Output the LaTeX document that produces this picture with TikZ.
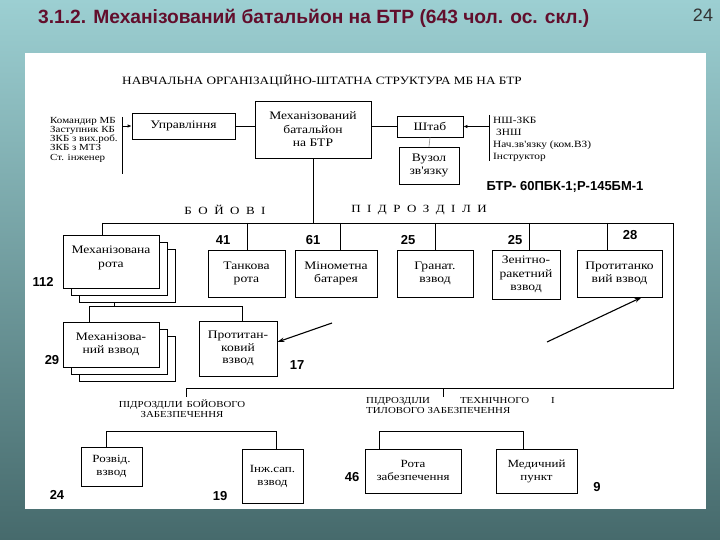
\documentclass[tikz,border=0pt]{standalone}
\usepackage{fontspec}
\setmainfont{Liberation Serif}
\newfontfamily\dserif[FakeStretch=1.18]{Liberation Serif}
\newfontfamily\asans{Liberation Sans}
\usetikzlibrary{arrows.meta,calc}
\definecolor{bgtop}{RGB}{156,207,210}
\definecolor{bgbot}{RGB}{70,106,108}
\definecolor{titlec}{RGB}{98,14,44}
\begin{document}
\begin{tikzpicture}[x=1pt,y=-1pt,
  bx/.style={draw, line width=0.8pt, fill=white, align=center, inner sep=1pt,
    font=\dserif\fontsize{11.5}{13.5}\selectfont},
  num/.style={font=\asans\bfseries\fontsize{13}{13}\selectfont, inner sep=0pt},
  ln/.style={line width=0.8pt},
  arr/.style={line width=1.1pt, -{Stealth[length=7pt,width=4.5pt]}},
  sarr/.style={line width=0.8pt, -{Latex[length=4pt,width=3.5pt]}},
  lst/.style={font=\dserif\fontsize{9.3}{9.2}\selectfont, align=left, inner sep=0pt, anchor=north west},
  spcap/.style={font=\dserif\fontsize{11}{12}\selectfont, inner sep=0pt},
  smalltxt/.style={font=\dserif\fontsize{9.2}{9.5}\selectfont, inner sep=0pt},
]
\useasboundingbox (0,0) rectangle (720,540);
\shade[top color=bgtop, bottom color=bgbot] (0,0) rectangle (720,540);
\fill[white] (25,53) rectangle (706,509);

% title
\node[anchor=west, text=titlec, inner sep=0pt,
  font=\asans\bfseries\fontsize{19.2}{20}\selectfont] (title) at (38,18)
  {3.1.2. Механізований батальйон на БТР (643 чол. ос. скл.)};
\node[font=\asans\fontsize{18}{18}\selectfont, text=black!80, inner sep=0pt] (pg) at (703,15) {24};

% heading
\node[font=\dserif\fontsize{11.2}{12}\selectfont, inner sep=0pt] (head) at (322,81)
  {НАВЧАЛЬНА ОРГАНІЗАЦІЙНО-ШТАТНА СТРУКТУРА МБ НА БТР};

% top boxes
\node[bx, minimum width=103, minimum height=26] (upr) at (183.5,126) {Управління};
\node[bx, minimum width=116, minimum height=57] (mb) at (313,129.5) {Механізований\\батальйон\\на БТР};
\node[bx, minimum width=66, minimum height=21] (shtab) at (430,126.5) {Штаб};
\node[bx, minimum width=60, minimum height=37] (vuzol) at (429,165.5) {Вузол\\зв'язку};

\draw[ln] (upr.east) -- (upr.east -| mb.west);
\draw[ln] (mb.east |- shtab.west) -- (shtab.west);
\draw[line width=0.6pt, black!45] (shtab.south) -- (vuzol.north);

% left list
\node[lst] (llist) at (50,117) {Командир МБ\\Заступник КБ\\ЗКБ з вих.роб.\\ЗКБ з МТЗ\\Ст. інженер};
\coordinate (lb1) at (122,117);
\coordinate (lb2) at (122,174);
\draw[ln] (lb1) -- (lb2);
\draw[sarr] (lb1 |- upr.west) -- (upr.west);

% right list
\node[lst, font=\dserif\fontsize{9.6}{12}\selectfont] (rlist) at (493,116.5)
  {НШ-ЗКБ\\\hspace{3pt}ЗНШ\\Нач.зв'язку (ком.ВЗ)\\Інструктор};
\coordinate (rb1) at (489,115);
\coordinate (rb2) at (489,161);
\draw[ln] (rb1) -- (rb2);
\draw[sarr] (rb1 |- shtab.east) -- (shtab.east);

\node[font=\asans\bfseries\fontsize{13}{13}\selectfont, inner sep=0pt] (btr) at (565,187)
  {БТР- 60ПБК-1;Р-145БМ-1};

% spaced captions
\node[spcap] (boyovi) at (225,210)
  {Б\hspace{6.5pt}О\hspace{6.5pt}Й\hspace{6.5pt}О\hspace{6.5pt}В\hspace{6.5pt}І};
\node[spcap] (pidr) at (419,210)
  {П\hspace{6.5pt}І\hspace{6.5pt}Д\hspace{6.5pt}Р\hspace{6.5pt}О\hspace{6.5pt}З\hspace{6.5pt}Д\hspace{6.5pt}І\hspace{6.5pt}Л\hspace{6.5pt}И};

% main horizontal line
\coordinate (h0) at (102,223);
\coordinate (hr) at (673,223);
\coordinate (lr) at (673,388);
\coordinate (ll) at (186,388);
\coordinate (lm) at (443,388);
\draw[ln] (mb.south) -- (mb.south |- h0);
\draw[ln] (h0) -- (hr) -- (lr) -- (ll);

% combat units row
\node[bx, minimum width=96, minimum height=53] (rota3) at (127,275.5) {};
\node[bx, minimum width=96, minimum height=53] (rota2) at (119,268.5) {};
\node[bx, minimum width=96, minimum height=53, anchor=center] (rota) at (111,261.5) {\raisebox{18pt}{\begin{tabular}{@{}c@{}}Механізована\\рота\end{tabular}}};

\node[bx, minimum width=77, minimum height=47] (tank) at (246.5,273.5) {Танкова\\рота};
\node[bx, minimum width=82, minimum height=47] (mort) at (336,273.5) {Мінометна\\батарея};
\node[bx, minimum width=76, minimum height=47] (gren) at (435,273.5) {\raisebox{8pt}{\begin{tabular}{@{}c@{}}Гранат.\\взвод\end{tabular}}};
\node[bx, minimum width=68, minimum height=49] (zrv) at (526,274.5) {Зенітно-\\ракетний\\взвод};
\node[bx, minimum width=85, minimum height=47] (ptv) at (619.5,273.5) {\raisebox{8pt}{\begin{tabular}{@{}c@{}}Протитанко\\вий взвод\end{tabular}}};

\coordinate (t1) at (247,223);
\coordinate (t2) at (340,223);
\coordinate (t3) at (435,223);
\coordinate (t4) at (529,223);
\coordinate (t5) at (607,223);
\draw[ln] (h0) -- (h0 |- rota.north);
\draw[ln] (t1) -- (t1 |- tank.north);
\draw[ln] (t2) -- (t2 |- mort.north);
\draw[ln] (t3) -- (t3 |- gren.north);
\draw[ln] (t4) -- (t4 |- zrv.north);
\draw[ln] (t5) -- (t5 |- ptv.north);

\node[num] (n41) at (223,240) {41};
\node[num] (n61) at (313,240) {61};
\node[num] (n25a) at (408,240) {25};
\node[num] (n25b) at (515,240) {25};
\node[num] (n28) at (630,235) {28};
\node[num] (n112) at (43,282) {112};

% platoons
\node[bx, minimum width=96, minimum height=45] (plt3) at (127,358.5) {};
\node[bx, minimum width=96, minimum height=45] (plt2) at (119,351.5) {};
\node[bx, minimum width=96, minimum height=45] (plt) at (111,344.5) {\raisebox{4pt}{\begin{tabular}{@{}c@{}}Механізова-\\ний взвод\end{tabular}}};
\node[bx, minimum width=78, minimum height=55, font=\dserif\fontsize{11.5}{12.5}\selectfont] (pt17) at (238,348.5) {Протитан-\\ковий\\взвод};

\coordinate (rb) at (114,306);
\coordinate (rbl) at (89,306);
\coordinate (rbr) at (242,306);
\draw[ln] (rb |- rota3.south) -- (rb);
\draw[ln] (rbl |- plt.north) -- (rbl) -- (rbr) -- (rbr |- pt17.north);

\node[num] (n29) at (52,360) {29};
\node[num] (n17) at (297,365) {17};

% arrows
\coordinate (a1) at (332,323);
\coordinate (a2) at (547,342);
\draw[arr] (a1) -- ([yshift=6.5pt]pt17.east);
\draw[arr] (a2) -- ([xshift=22pt]ptv.south);

% lower branch ticks
\coordinate (lt1) at (186,397);
\coordinate (lt2) at (443,397);
\draw[ln] (ll) -- (lt1);
\draw[ln] (lm) -- (lt2);

\node[smalltxt, align=center] (sup1) at (182,408.5) {ПІДРОЗДІЛИ\hspace{4pt}БОЙОВОГО\\ЗАБЕЗПЕЧЕННЯ};
\node[smalltxt, align=left, anchor=north west] (sup2) at (366,397.5)
  {ПІДРОЗДІЛИ\hspace{30pt}ТЕХНІЧНОГО\hspace{22pt}І\\ТИЛОВОГО ЗАБЕЗПЕЧЕННЯ};

% bottom boxes
\node[bx, minimum width=61, minimum height=39, font=\dserif\fontsize{11}{13}\selectfont] (rozv) at (111.5,466.5) {Розвід.\\взвод};
\node[bx, minimum width=61, minimum height=54, font=\dserif\fontsize{11}{13}\selectfont] (inzh) at (272.5,476) {\raisebox{6pt}{\begin{tabular}{@{}c@{}}Інж.сап.\\взвод\end{tabular}}};
\node[bx, minimum width=96, minimum height=44, font=\dserif\fontsize{11}{13}\selectfont] (rz) at (413,471) {\raisebox{4pt}{\begin{tabular}{@{}c@{}}Рота\\забезпечення\end{tabular}}};
\node[bx, minimum width=81, minimum height=44, font=\dserif\fontsize{11}{13}\selectfont] (med) at (536.5,471) {\raisebox{4pt}{\begin{tabular}{@{}c@{}}Медичний\\пункт\end{tabular}}};

\coordinate (bl1) at (106,431);
\coordinate (bl2) at (276,431);
\coordinate (br1) at (379,431);
\coordinate (br2) at (523,431);
\draw[ln] (bl1 |- rozv.north) -- (bl1) -- (bl2) -- (bl2 |- inzh.north);
\draw[ln] (br1 |- rz.north) -- (br1) -- (br2) -- (br2 |- med.north);

\node[num] (n24) at (57,495) {24};
\node[num] (n19) at (220,496) {19};
\node[num] (n46) at (352,477) {46};
\node[num] (n9) at (597,487) {9};
\end{tikzpicture}
\end{document}
